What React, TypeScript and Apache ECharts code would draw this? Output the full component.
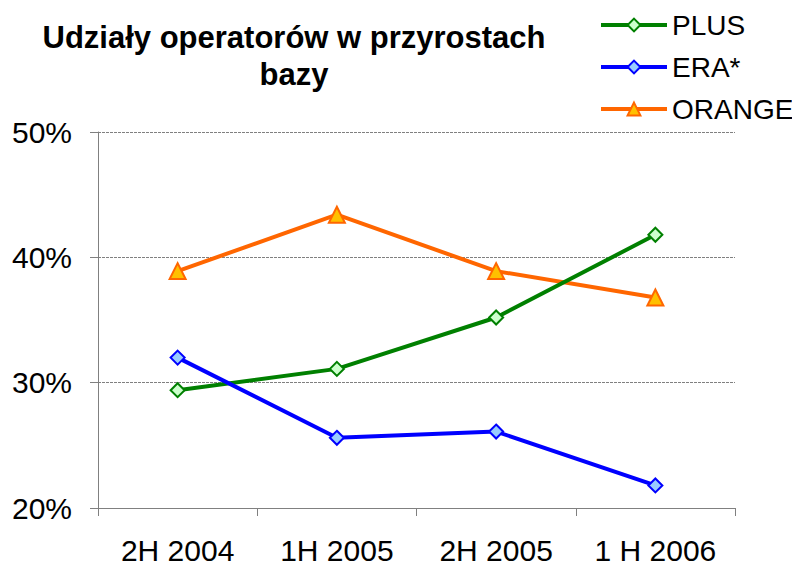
import React, { useEffect, useRef } from "react";
import * as echarts from "echarts";

const categories = ["2H 2004", "1H 2005", "2H 2005", "1 H 2006"];
const plus = [29.4, 31.1, 35.2, 41.8];
const era = [32.0, 25.6, 26.1, 21.8];
const orange = [38.9, 43.4, 38.9, 36.8];
const yTicks = [20, 30, 40, 50];

export default function App() {
  const ref = useRef<HTMLDivElement>(null);
  useEffect(() => {
    const chart = echarts.init(ref.current!, null, { renderer: "svg" });
    const font = "Liberation Sans, Arial, sans-serif";
    chart.setOption({
      animation: false,
      backgroundColor: "#ffffff",
      title: {
        text: "Udziały operatorów w przyrostach\nbazy",
        left: 289,
        top: 14,
        textAlign: "center",
        textStyle: { fontFamily: font, fontSize: 31, fontWeight: "bold", color: "#000", lineHeight: 37 },
      },
      legend: {
        orient: "vertical",
        left: 594,
        top: 4,
        itemWidth: 66,
        itemHeight: 16,
        itemGap: 10,
        lineStyle: { width: 4 },
        textStyle: { fontFamily: font, fontSize: 28, color: "#000", lineHeight: 32 },
        data: ["PLUS", "ERA*", "ORANGE"],
      },
      grid: { left: 98, right: 57, top: 132, bottom: 57, containLabel: false },
      xAxis: {
        type: "category",
        data: categories,
        boundaryGap: true,
        axisLine: { lineStyle: { color: "#808080", width: 1 } },
        axisTick: { show: true, length: 8, lineStyle: { color: "#808080" } },
        axisLabel: { fontFamily: font, fontSize: 30, color: "#000", margin: 27 },
      },
      yAxis: {
        type: "value",
        min: yTicks[0],
        max: yTicks[yTicks.length - 1],
        interval: 10,
        axisLine: { show: true, lineStyle: { color: "#808080", width: 1 } },
        axisTick: { show: true, length: 8, lineStyle: { color: "#808080" } },
        axisLabel: { fontFamily: font, fontSize: 30, color: "#000", margin: 26, formatter: "{value}%" },
        splitLine: { show: true, lineStyle: { color: "#808080", type: [3, 1], width: 1 } },
      },
      series: [
        {
          name: "PLUS",
          type: "line",
          data: plus,
          symbol: "diamond",
          symbolSize: 14,
          lineStyle: { color: "#008000", width: 4 },
          itemStyle: { color: "#CCFFCC", borderColor: "#008000", borderWidth: 2 },
          z: 3,
        },
        {
          name: "ERA*",
          type: "line",
          data: era,
          symbol: "diamond",
          symbolSize: 14,
          lineStyle: { color: "#0000FF", width: 4 },
          itemStyle: { color: "#99CCFF", borderColor: "#0000FF", borderWidth: 2 },
          z: 3,
        },
        {
          name: "ORANGE",
          type: "line",
          data: orange,
          symbol: "triangle",
          symbolSize: 16,
          lineStyle: { color: "#FF6600", width: 4 },
          itemStyle: { color: "#FFC000", borderColor: "#FF6600", borderWidth: 2 },
          z: 2,
        },
      ],
    });
    return () => chart.dispose();
  }, []);
  return <div ref={ref} style={{ width: 792, height: 565, position: "absolute", left: 0, top: 0 }} />;
}
